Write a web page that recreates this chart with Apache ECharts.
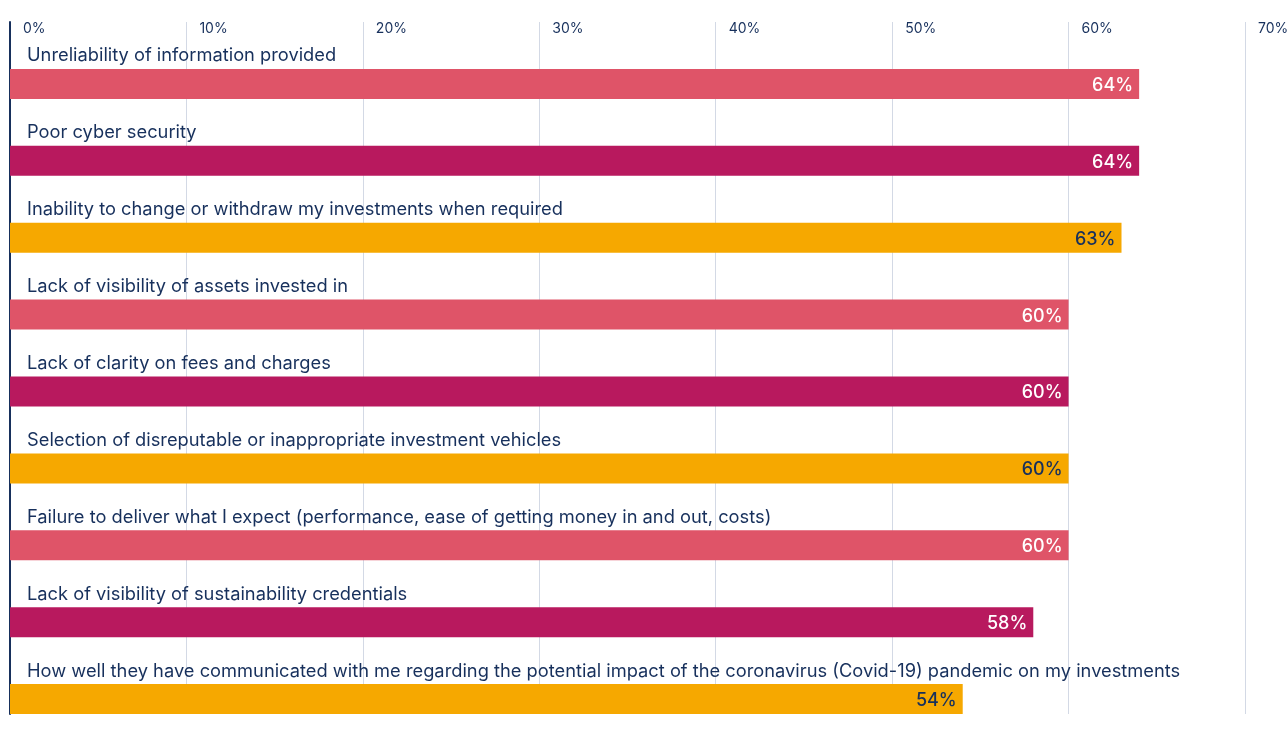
<!DOCTYPE html>
<html>
<head>
<meta charset="utf-8">
<script src="https://cdn.jsdelivr.net/npm/echarts@6/dist/echarts.min.js"></script>
<style>
  html, body { margin: 0; padding: 0; background: #fff; }
  #main { width: 1288px; height: 729px; }
</style>
</head>
<body>
<div id="main"></div>
<script>
// data
var categories = [
  "Unreliability of information provided",
  "Poor cyber security",
  "Inability to change or withdraw my investments when required",
  "Lack of visibility of assets invested in",
  "Lack of clarity on fees and charges",
  "Selection of disreputable or inappropriate investment vehicles",
  "Failure to deliver what I expect (performance, ease of getting money in and out, costs)",
  "Lack of visibility of sustainability credentials",
  "How well they have communicated with me regarding the potential impact of the coronavirus (Covid-19) pandemic on my investments"
];
var values = [64, 64, 63, 60, 60, 60, 60, 58, 54];
var xTicks = [0, 10, 20, 30, 40, 50, 60, 70];

var navy = "#17305c";
var palette = ["#df5468", "#b8195e", "#f6a800"];
var labelColors = ["#ffffff", "#ffffff", navy];

var chart = echarts.init(document.getElementById("main"));

var barData = values.map(function (v, i) {
  return {
    value: v,
    itemStyle: { color: palette[i % 3] },
    label: { color: labelColors[i % 3] }
  };
});

chart.setOption({
  animation: false,
  textStyle: { fontFamily: "Inter" },
  grid: { left: 10, right: 43, top: 22, height: 692, outerBoundsMode: "none" },
  xAxis: {
    type: "value",
    position: "top",
    min: xTicks[0],
    max: xTicks[xTicks.length - 1],
    interval: 10,
    axisLine: { show: false },
    axisTick: { show: false },
    axisLabel: {
      inside: true,
      margin: 0,
      align: "left",
      padding: [0, 0, 0, 13],
      color: navy,
      fontSize: 14,
      formatter: "{value}%"
    },
    splitLine: { lineStyle: { color: "#d3d9e5", width: 1 } }
  },
  yAxis: {
    type: "category",
    inverse: true,
    data: categories,
    axisLine: { show: true, lineStyle: { color: navy, width: 2 } },
    axisTick: { show: false },
    axisLabel: {
      inside: true,
      margin: 17,
      color: navy,
      fontSize: 18.3,
      verticalAlign: "bottom",
      lineHeight: 9
    }
  },
  series: [
    {
      // empty slot so the bar sits in the lower part of each row
      type: "bar",
      data: values.map(function () { return "-"; }),
      barWidth: 30,
      barGap: "56.7%",
      silent: true
    },
    {
      type: "bar",
      data: barData,
      barWidth: 30,
      barGap: "56.7%",
      label: {
        show: true,
        position: "insideRight",
        distance: 6,
        offset: [0, 1.5],
        fontSize: 18,
        fontWeight: 500,
        formatter: "{c}%"
      }
    }
  ]
});
</script>
</body>
</html>
